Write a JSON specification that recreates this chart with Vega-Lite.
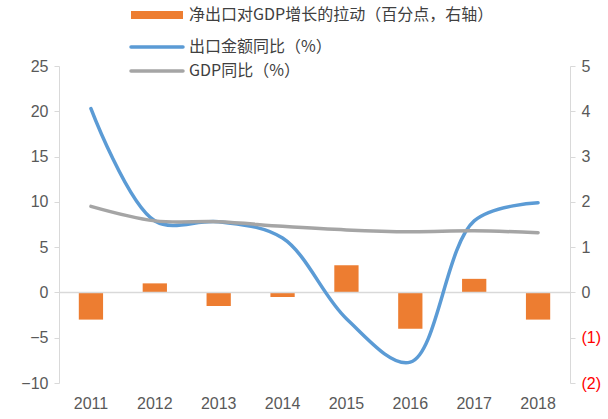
{
  "$schema": "https://vega.github.io/schema/vega-lite/v6.json",
  "width": 511,
  "height": 317,
  "autosize": {"type": "none"},
  "padding": {"left": 59, "top": 66, "right": 38, "bottom": 36},
  "background": "white",
  "config": {"view": {"stroke": null}, "axis": {"labelFont": "Liberation Sans", "labelFontSize": 16, "labelColor": "#595959", "grid": false, "domainColor": "#D9D9D9", "tickColor": "#D9D9D9", "title": null}},
  "data": {"values": [
    {"year": "2011", "series": "净出口对GDP增长的拉动（百分点，右轴）", "value": -0.6},
    {"year": "2012", "series": "净出口对GDP增长的拉动（百分点，右轴）", "value": 0.2},
    {"year": "2013", "series": "净出口对GDP增长的拉动（百分点，右轴）", "value": -0.3},
    {"year": "2014", "series": "净出口对GDP增长的拉动（百分点，右轴）", "value": -0.1},
    {"year": "2015", "series": "净出口对GDP增长的拉动（百分点，右轴）", "value": 0.6},
    {"year": "2016", "series": "净出口对GDP增长的拉动（百分点，右轴）", "value": -0.8},
    {"year": "2017", "series": "净出口对GDP增长的拉动（百分点，右轴）", "value": 0.3},
    {"year": "2018", "series": "净出口对GDP增长的拉动（百分点，右轴）", "value": -0.6},
    {"year": "2011", "series": "出口金额同比（%）", "value": 20.3},
    {"year": "2012", "series": "出口金额同比（%）", "value": 7.9},
    {"year": "2013", "series": "出口金额同比（%）", "value": 7.8},
    {"year": "2014", "series": "出口金额同比（%）", "value": 6.0},
    {"year": "2015", "series": "出口金额同比（%）", "value": -2.9},
    {"year": "2016", "series": "出口金额同比（%）", "value": -7.7},
    {"year": "2017", "series": "出口金额同比（%）", "value": 7.9},
    {"year": "2018", "series": "出口金额同比（%）", "value": 9.9},
    {"year": "2011", "series": "GDP同比（%）", "value": 9.5},
    {"year": "2012", "series": "GDP同比（%）", "value": 7.9},
    {"year": "2013", "series": "GDP同比（%）", "value": 7.8},
    {"year": "2014", "series": "GDP同比（%）", "value": 7.3},
    {"year": "2015", "series": "GDP同比（%）", "value": 6.9},
    {"year": "2016", "series": "GDP同比（%）", "value": 6.7},
    {"year": "2017", "series": "GDP同比（%）", "value": 6.8},
    {"year": "2018", "series": "GDP同比（%）", "value": 6.6}
  ]},
  "encoding": {
    "x": {"field": "year", "type": "ordinal", "scale": {"paddingInner": 0.62, "paddingOuter": 0.31},
      "axis": {"domain": false, "ticks": false, "labelAngle": 0, "labelPadding": 12}},
    "color": {"field": "series", "type": "nominal",
      "scale": {"domain": ["净出口对GDP增长的拉动（百分点，右轴）", "出口金额同比（%）", "GDP同比（%）"], "range": ["#ED7D31", "#5B9BD5", "#A5A5A5"]},
      "legend": {"orient": "none", "legendX": 90, "legendY": -59, "title": null, "symbolType": "stroke", "symbolSize": 2704, "symbolStrokeWidth": 3.5,
        "labelFont": "Noto Sans CJK SC", "labelFontSize": 16, "labelColor": "#404040", "rowPadding": 8, "labelOffset": 24, "labelLimit": 400,
        "encode": {"symbols": {"update": {"strokeWidth": {"signal": "datum.value == '净出口对GDP增长的拉动（百分点，右轴）' ? 8 : 3.5"}, "strokeCap": {"signal": "datum.value == '净出口对GDP增长的拉动（百分点，右轴）' ? 'butt' : 'round'"}}}}}
    }
  },
  "layer": [
    {
      "layer": [
        {
          "transform": [{"filter": "datum.series == '净出口对GDP增长的拉动（百分点，右轴）'"}],
          "mark": {"type": "bar"},
          "encoding": {"y": {"field": "value", "type": "quantitative", "scale": {"domain": [-2, 5], "nice": false, "zero": false},
            "axis": {"orient": "right", "values": [-2, -1, 0, 1, 2, 3, 4, 5], "labelPadding": 6,
              "labelExpr": "datum.value < 0 ? '(' + abs(datum.value) + ')' : datum.value",
              "labelColor": {"condition": {"test": "datum.value < 0", "value": "#FF0000"}, "value": "#595959"}}}}
        },
        {
          "transform": [{"filter": "datum.year == '2011' && datum.series == '净出口对GDP增长的拉动（百分点，右轴）'"}],
          "mark": {"type": "rule", "color": "#D9D9D9", "strokeWidth": 1.5},
          "encoding": {"x": null, "y": {"datum": 0, "type": "quantitative"}, "color": {"value": "#D9D9D9"}}
        }
      ]
    },
    {
      "transform": [{"filter": "datum.series != '净出口对GDP增长的拉动（百分点，右轴）'"}],
      "mark": {"type": "line", "interpolate": "catmull-rom", "strokeWidth": 3.5, "strokeCap": "round"},
      "encoding": {"y": {"field": "value", "type": "quantitative", "scale": {"domain": [-10, 25], "nice": false, "zero": false},
        "axis": {"orient": "left", "values": [-10, -5, 0, 5, 10, 15, 20, 25], "labelPadding": 6}}}
    }
  ],
  "resolve": {"scale": {"y": "independent"}}
}
